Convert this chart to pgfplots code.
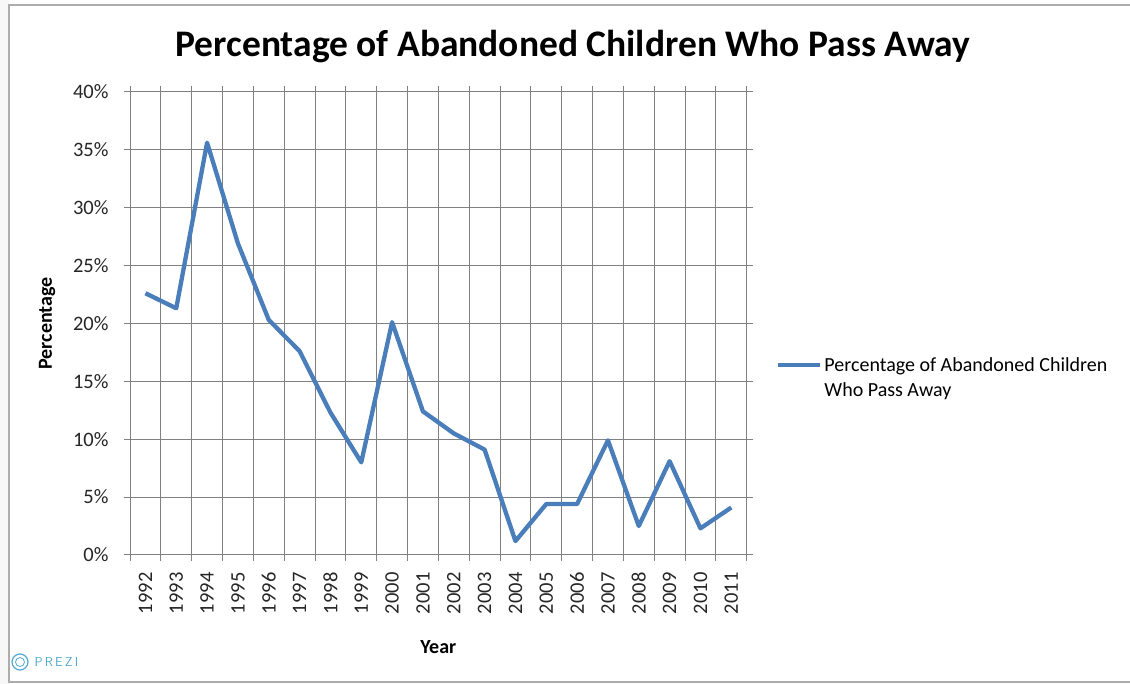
\documentclass[border=0pt]{standalone}
\usepackage{pgfplots}
\pgfplotsset{compat=1.18}
\usepackage{fontspec}
\setmainfont{Carlito}
\definecolor{gridgray}{RGB}{128,128,128}
\definecolor{lineblue}{RGB}{74,126,187}
\definecolor{prezi}{RGB}{80,170,210}

\pgfplotstableread{
idx year value
0 1992 22.6
1 1993 21.3
2 1994 35.6
3 1995 26.9
4 1996 20.3
5 1997 17.6
6 1998 12.3
7 1999 8.0
8 2000 20.1
9 2001 12.4
10 2002 10.5
11 2003 9.1
12 2004 1.2
13 2005 4.4
14 2006 4.4
15 2007 9.9
16 2008 2.5
17 2009 8.1
18 2010 2.3
19 2011 4.1
}\deaths

\begin{document}
\begin{tikzpicture}[x=1pt,y=1pt]
\path[use as bounding box] (0,0) rectangle (1130,684);
% page frame
\fill[gray!6] (0,0) rectangle (9,684);
\fill[white] (9,2) rectangle (1140,679);
\draw[gray!65, line width=1.5pt] (9,2) rectangle (1140,679);
% watermark
\draw[prezi, line width=1.2pt] (20,22) circle (8);
\draw[prezi, line width=0.8pt] (20,22) circle (4.5);
\node[anchor=west, text=prezi, font=\sffamily\fontsize{13}{13}\selectfont] at (31,22) {P\,R\,E\,Z\,I};
% title
\node[font=\bfseries\fontsize{37.5}{45}\selectfont] at (573,637) {Percentage of Abandoned Children Who Pass Away};
\coordinate (plotSW) at (130,129);
\begin{axis}[
  at={(plotSW)}, anchor=south west,
  scale only axis, width=616.7pt, height=463.3pt,
  xmin=-0.5, xmax=19.5, ymin=0, ymax=40,
  axis line style={gridgray, line width=1pt},
  xtick={-0.5,0.5,...,19.5}, xticklabels={},
  extra x ticks={0,1,...,19},
  extra x tick labels={1992,1993,1994,1995,1996,1997,1998,1999,2000,2001,2002,2003,2004,2005,2006,2007,2008,2009,2010,2011},
  extra x tick style={grid=none, major tick length=0pt,
    tick label style={rotate=90, anchor=east, xshift=-14pt}},
  ytick={0,5,...,40},
  yticklabel={\pgfmathprintnumber{\tick}\%},
  /pgf/number format/assume math mode=true,
  tick align=outside, major tick length=6pt,
  tick style={gridgray, line width=1pt},
  grid=major, major grid style={gridgray, line width=1pt},
  tick label style={font=\fontsize{20.5}{24}\selectfont, text=black!85},
  yticklabel style={xshift=-12pt},
  xlabel={Year}, ylabel={Percentage},
  label style={font=\bfseries\fontsize{20}{24}\selectfont},
  xlabel style={at={(axis description cs:0.5,-0.1986)}, anchor=center},
  ylabel style={at={(axis description cs:-0.1346,0.5)}, anchor=center},
  legend style={at={(1.0475,0.4317)}, anchor=north west, draw=none, fill=none,
    font=\fontsize{20}{25}\selectfont, cells={align=left}, inner sep=0pt},
  legend image code/.code={\draw[#1] (0pt,12.5pt) -- (42pt,12.5pt);},
]
\addplot[lineblue, line width=4.3pt, line join=round] table[x=idx, y=value] {\deaths};
\addlegendentry{Percentage of Abandoned Children\\Who Pass Away}
\end{axis}
\end{tikzpicture}
\end{document}
